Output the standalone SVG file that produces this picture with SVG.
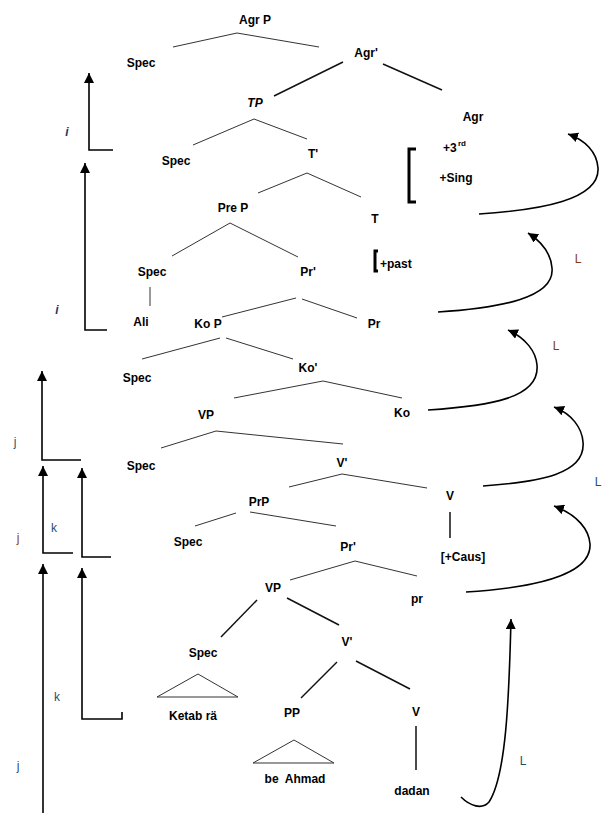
<svg xmlns="http://www.w3.org/2000/svg" width="604" height="813" viewBox="0 0 604 813">
<style>
text{font-family:"Liberation Sans",Arial,sans-serif;font-size:12px;font-weight:bold;fill:#000;text-anchor:middle}
.br{font-weight:bold;text-anchor:start}
.blue{fill:#1F4E79;font-weight:normal}
.brown{fill:#843C0C;font-weight:normal}
.idx{fill:#1F3864;font-style:italic;font-weight:bold}
.t{stroke:#333;stroke-width:1;fill:none}
.t2{stroke:#111;stroke-width:1.5;fill:none}
.mv{stroke:#000;stroke-width:1.6;fill:none}
.bk{stroke:#000;stroke-width:3;fill:none}
</style>
<defs>
<marker id="ah" markerUnits="userSpaceOnUse" markerWidth="12" markerHeight="10" refX="10" refY="5" orient="auto">
<path d="M0,0 L10,5 L0,10 Z" fill="#000"/>
</marker>
</defs>
<rect width="604" height="813" fill="#fff"/>

<g id="connectors">
<!-- tree branches -->
<path class="t" d="M173,47 L237,33 L319,47"/>
<line class="t2" x1="343" y1="62" x2="274" y2="96"/>
<line class="t2" x1="383" y1="64" x2="442" y2="90"/>
<path class="t" d="M193,145 L254,119 L307,139"/>
<path class="t" d="M258,193 L307,173 L361,197"/>
<path class="t" d="M172,256 L230,223 L298,257"/>
<line class="t" x1="150" y1="287" x2="150" y2="306"/>
<path class="t" d="M222,317 L296,298 M302,299 L357,318"/>
<path class="t" d="M142,359 L220,338 M226,338 L293,359"/>
<path class="t" d="M234,398 L323,381 L402,398"/>
<path class="t" d="M161,448 L216,431 L343,444"/>
<path class="t" d="M289,487 L342,474 L427,488"/>
<line class="t2" x1="450" y1="512" x2="450" y2="538"/>
<path class="t" d="M195,526 L236,513 M250,512 L336,526"/>
<path class="t" d="M290,580 L355,561 L417,576"/>
<line class="t2" x1="221" y1="637" x2="257" y2="600"/>
<line class="t2" x1="287" y1="598" x2="339" y2="625"/>
<line class="t2" x1="337" y1="662" x2="301" y2="698"/>
<line class="t2" x1="356" y1="661" x2="410" y2="689"/>
<path class="t" d="M157,697 L198,674 L238,697 Z"/>
<path class="t" d="M253,763 L294,740 L334,763 Z"/>
<line class="t2" x1="416" y1="726" x2="416" y2="770"/>
<!-- brackets -->
<path class="bk" d="M416,149 L409,149 L409,202 L416,202"/>
<path class="bk" d="M378,251 L375,251 L375,271 L378,271"/>
<!-- right movement arrows -->
<path class="mv" marker-end="url(#ah)" d="M479,214 C540,210 600,200 598,168 C597,152 585,140 568,134"/>
<path class="mv" marker-end="url(#ah)" d="M438,312 C500,308 555,298 552,268 C551,254 542,242 528,233"/>
<path class="mv" marker-end="url(#ah)" d="M428,410 C490,406 540,398 537,365 C536,352 526,338 508,330"/>
<path class="mv" marker-end="url(#ah)" d="M483,486 C540,482 586,474 583,442 C582,428 572,414 554,407"/>
<path class="mv" marker-end="url(#ah)" d="M466,592 C530,588 592,576 590,544 C589,530 578,515 554,506"/>
<path class="mv" marker-end="url(#ah)" d="M461,797 C470,806 482,810 489,802 C506,776 509,700 511,619"/>
<!-- left movement arrows -->
<path class="mv" marker-end="url(#ah)" d="M113,150 L89,150 L89,73"/>
<path class="mv" marker-end="url(#ah)" d="M107,330 L85,330 L85,163"/>
<path class="mv" marker-end="url(#ah)" d="M81,460 L42,460 L42,371"/>
<path class="mv" marker-end="url(#ah)" d="M73,553 L43,553 L43,466"/>
<path class="mv" marker-end="url(#ah)" d="M111,557 L82,557 L82,468"/>
<path class="mv" marker-end="url(#ah)" d="M43,813 L43,564"/>
<path class="mv" marker-end="url(#ah)" d="M122,712 L122,719 L82,719 L82,568"/>
</g>

<g id="n-agrp"><text x="255" y="24">Agr P</text></g>
<g id="n-spec1"><text x="141" y="67">Spec</text></g>
<g id="n-agrbar"><text x="366" y="57">Agr'</text></g>
<g id="n-tp"><text x="255" y="107" font-style="italic">TP</text></g>
<g id="n-agr"><text x="473" y="121">Agr</text></g>
<g id="n-agrfeat"><text class="br" x="443" y="152">+3</text><text class="br" x="458" y="146" font-size="8" style="font-size:8px">rd</text><text x="456" y="182">+Sing</text></g>
<g id="n-spec2"><text x="176" y="165">Spec</text></g>
<g id="n-tbar"><text x="313" y="158">T'</text></g>
<g id="n-prep"><text x="233" y="212">Pre P</text></g>
<g id="n-t"><text x="375" y="223">T</text></g>
<g id="n-past"><text class="br" x="380" y="268">+past</text></g>
<g id="n-spec3"><text x="152" y="276">Spec</text></g>
<g id="n-prbar"><text x="308" y="276">Pr'</text></g>
<g id="n-ali"><text x="141" y="326">Ali</text></g>
<g id="n-kop"><text x="208" y="328">Ko P</text></g>
<g id="n-pr"><text x="374" y="328">Pr</text></g>
<g id="n-spec4"><text x="137" y="382">Spec</text></g>
<g id="n-kobar"><text x="308" y="372">Ko'</text></g>
<g id="n-vp1"><text x="206" y="419">VP</text></g>
<g id="n-ko"><text x="402" y="417">Ko</text></g>
<g id="n-spec5"><text x="141" y="470">Spec</text></g>
<g id="n-vbar1"><text x="342" y="467">V'</text></g>
<g id="n-v1"><text x="450" y="500">V</text></g>
<g id="n-prp"><text x="259" y="506">PrP</text></g>
<g id="n-spec6"><text x="188" y="546">Spec</text></g>
<g id="n-prbar2"><text x="348" y="551">Pr'</text></g>
<g id="n-caus"><text x="463" y="561">[+Caus]</text></g>
<g id="n-pr2"><text x="417" y="603">pr</text></g>
<g id="n-vp2"><text x="273" y="592">VP</text></g>
<g id="n-spec7"><text x="203" y="657">Spec</text></g>
<g id="n-vbar2"><text x="347" y="646">V'</text></g>
<g id="n-ketab"><text x="193" y="720">Ketab rä</text></g>
<g id="n-pp"><text x="292" y="717">PP</text></g>
<g id="n-v2"><text x="416" y="716">V</text></g>
<g id="n-beahmad"><text x="295" y="783" xml:space="preserve">be  Ahmad</text></g>
<g id="n-dadan"><text x="412" y="795">dadan</text></g>

<g id="labels">
<text class="brown" x="578" y="263">L</text>
<text class="brown" x="556" y="350">L</text>
<text class="blue" x="598" y="486">L</text>
<text class="blue" x="523" y="765">L</text>
<text class="idx" x="67" y="136">i</text>
<text class="idx" x="57" y="314">i</text>
<text class="blue" x="15" y="446">j</text>
<text class="blue" x="54" y="532">k</text>
<text class="brown" x="18" y="542">j</text>
<text class="blue" x="57" y="701">k</text>
<text class="blue" x="18" y="770">j</text>
</g>
</svg>
